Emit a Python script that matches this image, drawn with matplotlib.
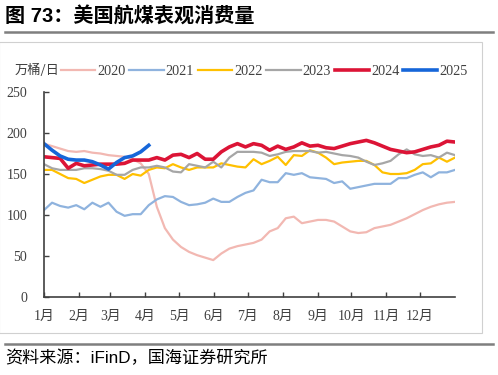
import numpy as np
import matplotlib
matplotlib.use("Agg")
import matplotlib.pyplot as plt
from matplotlib.lines import Line2D
from matplotlib.patches import Rectangle

plt.rcParams['font.family'] = ['Liberation Serif', 'Noto Sans CJK SC', 'DejaVu Sans']

years = ["2020", "2021", "2022", "2023", "2024", "2025"]
month_labels = ["1月", "2月", "3月", "4月", "5月", "6月", "7月", "8月", "9月", "10月", "11月", "12月"]
month_start_days = [0, 31, 59, 90, 120, 151, 181, 212, 243, 273, 304, 334]

v2020 = [187, 184, 181, 178, 177, 178, 176, 175, 173, 172, 171, 168, 163, 150, 110, 84,
         70, 61, 55, 51, 48, 45, 53, 59, 62, 64, 66, 70, 80, 84, 96, 98,
         90, 92, 94, 94, 92, 86, 80, 78, 79, 84, 86, 88, 92, 96, 101, 106,
         110, 113, 115, 116]
v2021 = [106, 115, 111, 109, 112, 107, 115, 110, 115, 104, 99, 101, 101, 112, 119, 123,
         122, 116, 112, 113, 115, 120, 116, 116, 122, 127, 130, 143, 140, 140, 151, 149,
         151, 146, 145, 144, 139, 141, 132, 134, 136, 138, 138, 138, 145, 145, 149, 152,
         146, 152, 152, 155]
v2022 = [155, 155, 150, 145, 144, 139, 143, 147, 149, 149, 144, 150, 148, 155, 158, 157,
         162, 158, 155, 158, 158, 158, 163, 161, 159, 158, 168, 162, 166, 171, 161, 173,
         172, 179, 176, 170, 162, 164, 165, 166, 166, 161, 152, 150, 150, 151, 155, 162,
         163, 170, 165, 170]
v2023 = [162, 157, 155, 155, 155, 157, 157, 156, 154, 149, 149, 155, 158, 158, 160, 158,
         153, 152, 162, 160, 158, 165, 158, 170, 177, 177, 177, 176, 172, 174, 177, 178,
         178, 178, 176, 177, 175, 173, 172, 170, 165, 161, 163, 166, 174, 180, 174, 172,
         173, 170, 176, 173]
v2024 = [171, 170, 169, 157, 163, 160, 161, 162, 162, 162, 163, 167, 167, 167, 170, 167,
         173, 174, 170, 175, 168, 168, 177, 183, 187, 183, 187, 185, 179, 184, 180, 183,
         188, 184, 185, 182, 181, 184, 187, 189, 191, 188, 184, 180, 178, 176, 177, 180,
         183, 185, 190, 189]
v2025 = [187, 179, 172, 168, 167, 167, 165, 161, 156, 164, 170, 172, 177, 185]

series = [v2020, v2021, v2022, v2023, v2024, v2025]
colors = ["#F2B8B2", "#8FB3DE", "#FFC000", "#A6A6A6", "#DC1436", "#1666D9"]
widths = [1.6, 1.6, 1.6, 1.6, 2.6, 2.6]

W, H = 498, 375
fig = plt.figure(figsize=(W / 100, H / 100), dpi=100)

def fx(x):
    return x / W

def fy(y):
    return 1 - y / H

# frame and decorations
fig.patches.append(Rectangle((fx(-1), fy(333)), fx(483), fy(42) - fy(333),
                             transform=fig.transFigure, fill=False,
                             edgecolor="#D0D0D0", linewidth=0.8))
fig.add_artist(Line2D([fx(5), fx(493)], [fy(32), fy(32)], color="#7F7F7F", linewidth=1.8))
fig.add_artist(Line2D([fx(5), fx(493)], [fy(344), fy(344)], color="#7F7F7F", linewidth=1.8))

fig.text(fx(5), fy(16), "图 73：美国航煤表观消费量", fontsize=14.5, fontweight="bold",
         family=["Liberation Sans", "Noto Sans CJK SC"], va="center", ha="left", color="#000000")
fig.text(fx(5), fy(358), "资料来源：iFinD，国海证券研究所", fontsize=12.3,
         family=["Liberation Sans", "Noto Sans CJK SC"], va="center", ha="left", color="#000000")
fig.text(fx(15), fy(70), "万桶/日", fontsize=9.5, va="center", ha="left", color="#404040",
         family=["Noto Sans CJK SC"])

ax = fig.add_axes([fx(44), fy(297), fx(411), fy(92) - fy(297)])
n_full = 52
days = np.linspace(0, 365, n_full)
handles = []
for yr, vals, c, lw in zip(years, series, colors, widths):
    x = days[:len(vals)]
    h, = ax.plot(x, vals, color=c, linewidth=lw, label=yr, solid_joinstyle="round")
    handles.append(h)

ax.set_xlim(0, 365)
ax.set_ylim(0, 250)
ax.set_yticks(np.arange(0, 251, 50))
ax.set_xticks(month_start_days)
ax.set_xticklabels(month_labels)
for s in ["top", "right"]:
    ax.spines[s].set_visible(False)
for s in ["left", "bottom"]:
    ax.spines[s].set_color("#404040")
    ax.spines[s].set_linewidth(1.2)
ax.tick_params(axis="both", direction="in", length=3.5, width=1, color="#404040",
               labelsize=10, labelcolor="#404040")
ax.tick_params(axis="y", pad=12)
ax.tick_params(axis="x", pad=9)

fig.legend(handles, years, loc="center left", bbox_to_anchor=(fx(61), fy(71)),
           ncol=6, frameon=False, fontsize=10.3, handlelength=2.4, handletextpad=0.15,
           columnspacing=0.25, borderaxespad=0, borderpad=0,
           labelcolor="#404040")

fig.savefig("out.png", dpi=100)
